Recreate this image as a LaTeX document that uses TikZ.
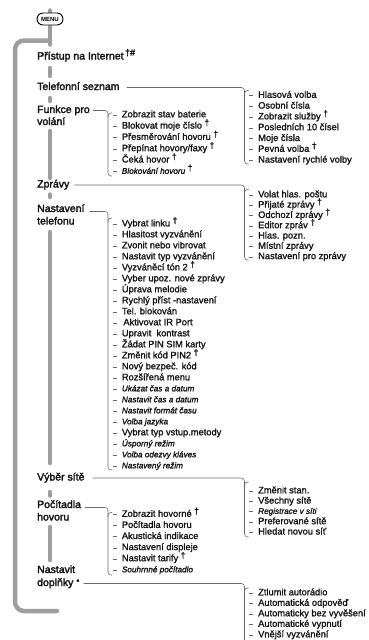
\documentclass[tikz,border=0pt]{standalone}
\usepackage{fontspec}
\setmainfont{Liberation Sans}
\newfontfamily\heavy{Liberation Sans}[FakeBold=2.5]
\newfontfamily\semi{Liberation Sans}[FakeBold=1.5]
\definecolor{barc}{RGB}{158,158,158}
\definecolor{linec}{RGB}{105,105,105}
\definecolor{txtc}{RGB}{20,20,20}
\newcommand{\dg}{\hspace{2.5pt}\raisebox{0.6ex}{\fontsize{8.5}{8.5}\selectfont †}}
\newcommand{\smit}[1]{{\fontsize{8.2}{10}\selectfont\itshape #1}}
\begin{document}
\begin{tikzpicture}[x=1pt,y=-1pt,
  bar/.style={line width=4.5pt, draw=barc, line cap=round},
  conn/.style={draw=linec, line width=0.55pt, rounded corners=3pt},
  tickln/.style={draw=linec, line width=0.55pt},
  mainlbl/.style={anchor=west, inner sep=0pt, text=txtc, font=\heavy\fontsize{10.5}{12}\selectfont, text height=7.5pt, text depth=2.5pt},
  sub/.style={anchor=west, inner sep=0pt, text=txtc, font=\semi\fontsize{9.3}{11}\selectfont, text height=6.8pt, text depth=2.2pt},
]
\useasboundingbox (0,0) rectangle (368,640);
\clip (0,0) rectangle (368,640);

% grey bars
\draw[bar] (50,10.5) -- (50,44.5);
\draw[bar, rounded corners=9pt] (50,40.5) -- (15,40.5) -- (15,611) -- (57,611);
\draw[bar] (50,68) -- (50,76);
\draw[bar] (50,98) -- (50,101);
\draw[bar] (50,131) -- (50,178);
\draw[bar] (50,194.5) -- (50,197);
\draw[bar] (50,232) -- (50,463);
\draw[bar] (50,492) -- (50,495.5);
\draw[bar] (50,527) -- (50,560);

% menu button
\node[draw=black, line width=0.9pt, fill=white, rounded corners=6pt, minimum width=26pt, minimum height=12pt, inner sep=0pt, font=\fontsize{6}{6}\selectfont\bfseries] (menu) at (50,19) {MENU};

% main labels
\node[mainlbl] (inet) at (37,57) {Přístup na Internet\hspace{1.5pt}\raisebox{0.7ex}{\fontsize{9}{9}\selectfont †\#}};
\node[mainlbl] (tel) at (37,87.5) {Telefonní seznam};
\node[mainlbl] (funk1) at (37,110.5) {Funkce pro};
\node[mainlbl] (funk2) at (37,122.5) {volání};
\node[mainlbl] (zpr) at (37,185) {Zprávy};
\node[mainlbl] (nas1) at (37,209.5) {Nastavení};
\node[mainlbl] (nas2) at (37,222) {telefonu};
\node[mainlbl] (vyb) at (37,478) {Výběr sítě};
\node[mainlbl] (poc1) at (37,505.5) {Počítadla};
\node[mainlbl] (poc2) at (37,518) {hovoru};
\node[mainlbl] (dop1) at (37,570.5) {Nastavit};
\node[mainlbl] (dop2) at (37,583.5) {doplňky\hspace{3pt}\raisebox{0.3ex}{\fontsize{7.5}{7.5}\selectfont *}};

% connectors and brackets
\draw[conn] ([xshift=7pt]tel.east) -| (244.5,95);
\draw[conn] (248.5,90.5) -- (244.5,90.5) -- (244.5,164) -- (248.5,164);

\draw[conn] ([xshift=3pt]funk1.east) -| (108,117);
\draw[conn] (112,113) -- (108,113) -- (108,176) -- (112,176);

\draw[conn] ([xshift=5pt]zpr.east) -| (244.5,194);
\draw[conn] (248.5,189.5) -- (244.5,189.5) -- (244.5,260) -- (248.5,260);

\draw[conn] ([xshift=5pt,yshift=-2pt]nas1.east) -| (108,222);
\draw[conn] (112,218) -- (108,218) -- (108,470) -- (112,470);

\draw[conn] ([xshift=8pt]vyb.east) -| (244.5,486);
\draw[conn] (248.5,482) -- (244.5,482) -- (244.5,537) -- (248.5,537);

\draw[conn] ([xshift=4pt,yshift=-2pt]poc1.east) -| (108,516.5);
\draw[conn] (112,512.5) -- (108,512.5) -- (108,575) -- (112,575);

\draw[conn] ([xshift=4pt]dop2.east) -| (244.5,592);
\draw[conn] (248.5,588) -- (244.5,588) -- (244.5,660);

% Telefonni seznam
\foreach \t [count=\i from 0] in {{Hlasová volba},{Osobní čísla},{Zobrazit služby\dg},{Posledních 10 čísel},{Moje čísla},{Pevná volba\dg},{Nastavení rychlé volby}}{
  \node[sub] (ts\i) at (258,95.5+10.8*\i) {\t};
  \draw[tickln] ([xshift=-9pt]ts\i.west) -- ([xshift=-5pt]ts\i.west);
}
% Funkce pro volani
\foreach \t [count=\i from 0] in {{Zobrazit stav baterie},{Blokovat moje číslo\dg},{Přesměrování hovoru\dg},{Přepínat hovory/faxy\dg},{Čeká hovor\dg},{\smit{Blokování hovoru}\dg}}{
  \node[sub] (fv\i) at (121.7,115+11.3*\i) {\t};
  \draw[tickln] ([xshift=-8.7pt]fv\i.west) -- ([xshift=-5pt]fv\i.west);
}
% Zpravy
\foreach \t [count=\i from 0] in {{Volat hlas. poštu},{Přijaté zprávy\dg},{Odchozí zprávy\dg},{Editor zpráv\dg},{Hlas. pozn.},{Místní zprávy},{Nastavení pro zprávy}}{
  \node[sub] (zp\i) at (258,195+10.3*\i) {\t};
  \draw[tickln] ([xshift=-9pt]zp\i.west) -- ([xshift=-5pt]zp\i.west);
}
% Nastaveni telefonu
\foreach \t [count=\i from 0] in {{Vybrat linku\dg},{Hlasitost vyzvánění},{Zvonit nebo vibrovat},{Nastavit typ vyzvánění},{Vyzváněcí tón 2\dg},{Vyber upoz. nové zprávy},{Úprava melodie},{Rychlý příst -nastavení},{Tel. blokován},{\hspace{1.5pt}Aktivovat IR Port},{Upravit\ \ kontrast},{Žádat PIN SIM karty},{Změnit kód PIN2\dg},{Nový bezpeč. kód},{Rozšířená menu},{\smit{Ukázat čas a datum}},{\smit{Nastavit čas a datum}},{\smit{Nastavit formát času}},{\smit{Volba jazyka}},{Vybrat typ vstup.metody},{\smit{Úsporný režim}},{\smit{Volba odezvy kláves}},{\smit{Nastavený režim}}}{
  \node[sub] (nt\i) at (121.7,224+11*\i) {\t};
  \draw[tickln] ([xshift=-8.7pt]nt\i.west) -- ([xshift=-5pt]nt\i.west);
}
% Vyber site
\foreach \t [count=\i from 0] in {{Změnit stan.},{Všechny sítě},{\smit{Registrace v síti}},{Preferované sítě},{Hledat novou síť}}{
  \node[sub] (vs\i) at (258,491+10.3*\i) {\t};
  \draw[tickln] ([xshift=-9pt]vs\i.west) -- ([xshift=-5pt]vs\i.west);
}
% Pocitadla hovoru
\foreach \t [count=\i from 0] in {{Zobrazit hovorné\dg},{Počítadla hovoru},{Akustická indikace},{Nastavení displeje},{Nastavit tarify\dg},{\smit{Souhrnné počítadlo}}}{
  \node[sub] (ph\i) at (121.7,514.5+11.1*\i) {\t};
  \draw[tickln] ([xshift=-8.7pt]ph\i.west) -- ([xshift=-5pt]ph\i.west);
}
% Nastavit doplnky
\foreach \t [count=\i from 0] in {{Ztlumit autorádio},{Automatická odpověď},{Automaticky bez vyvěšení},{Automatické vypnutí},{Vnější vyzvánění}}{
  \node[sub] (nd\i) at (258,593+10.5*\i) {\t};
  \draw[tickln] ([xshift=-9pt]nd\i.west) -- ([xshift=-5pt]nd\i.west);
}
\end{tikzpicture}
\end{document}
